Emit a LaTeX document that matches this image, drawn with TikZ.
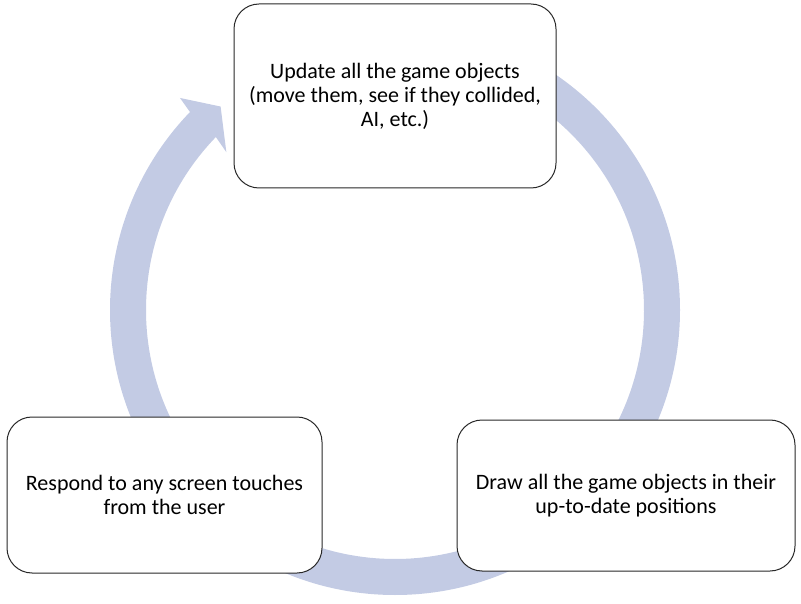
\documentclass[tikz,border=0pt]{standalone}
\usepackage{fontspec}
\setmainfont{Carlito}
\definecolor{bandblue}{RGB}{195,203,228}
\definecolor{boxline}{RGB}{40,40,40}
\tikzset{
  stepbox/.style={draw=boxline, line width=1pt, fill=white, rounded corners=25pt,
    align=center, inner sep=0pt, font=\fontsize{22}{24}\selectfont},
  band/.style={fill=bandblue}
}
\begin{document}
\begin{tikzpicture}[x=1pt,y=1pt]
\useasboundingbox (0,0) rectangle (801,-604);
\begin{scope}[shift={(395,-310)}]
\fill[band] (90:285pt) arc[start angle=90, end angle=-224, radius=285pt]
  -- (-224.6:302pt) -- (-229.4:268pt) -- (-223.1:231pt) -- (-224:249pt)
  arc[start angle=-224, end angle=90, radius=249pt] -- cycle;
\end{scope}
\node[stepbox, minimum width=322pt, minimum height=184pt] (update) at (395,-96)
  {Update all the game objects\\(move them, see if they collided,\\AI, etc.)};
\node[stepbox, minimum width=315pt, minimum height=156pt] (respond) at (164.5,-495)
  {Respond to any screen touches\\from the user};
\node[stepbox, minimum width=338pt, minimum height=151pt] (draw) at (626,-495.5)
  {Draw all the game objects in their\\up-to-date positions};
\end{tikzpicture}
\end{document}
